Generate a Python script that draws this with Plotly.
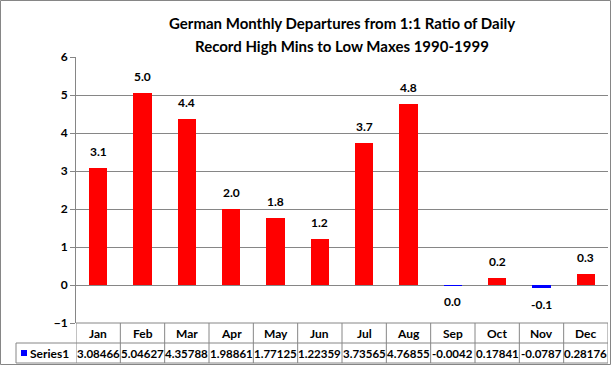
import plotly.graph_objects as go

months = ["Jan", "Feb", "Mar", "Apr", "May", "Jun", "Jul", "Aug", "Sep", "Oct", "Nov", "Dec"]
values = [3.08466, 5.04627, 4.35788, 1.98861, 1.77125, 1.22359, 3.73565, 4.76855, -0.0042, 0.17841, -0.0787, 0.28176]
table_text = ["3.08466", "5.04627", "4.35788", "1.98861", "1.77125", "1.22359", "3.73565", "4.76855", "-0.0042", "0.17841", "-0.0787", "0.28176"]
series_name = "Series1"
title_lines = ["German Monthly Departures from 1:1 Ratio of Daily", "Record High Mins to Low Maxes 1990-1999"]

W, H = 612, 365
L, R, T, B = 76, 4, 57, 42
PW, PH = W - L - R, H - T - B
FONT = "Lato"
GRID = "#868686"

def px_x(px):
    return (px - L) / PW

def px_y(py):
    return (H - B - py) / PH

xs = list(range(len(months)))
colors = ["#FF0000" if v >= 0 else "#0000FF" for v in values]

fig = go.Figure()
fig.add_trace(go.Bar(x=xs, y=values, marker=dict(color=colors, line=dict(width=0)),
                     width=0.41, showlegend=False, hoverinfo="skip"))

annotations = []
for i, v in enumerate(values):
    lab = f"{v:.1f}"
    if lab == "-0.0":
        lab = "0.0"
    annotations.append(dict(x=i, y=v, xref="x", yref="y", text="<b>" + lab + "</b>", showarrow=False,
                            yanchor="bottom" if v >= 0 else "top", yshift=7 if v >= 0 else -7,
                            font=dict(family=FONT, size=12, color="#000000")))

# title
annotations.append(dict(x=0.5, xref="paper", y=px_y(23), yref="paper", text="<b>" + title_lines[0] + "</b>",
                        showarrow=False, yanchor="middle", xanchor="center",
                        font=dict(family=FONT, size=15, color="#000")))
annotations.append(dict(x=0.5, xref="paper", y=px_y(46), yref="paper", text="<b>" + title_lines[1] + "</b>",
                        showarrow=False, yanchor="middle", xanchor="center",
                        font=dict(family=FONT, size=15, color="#000")))

# data table
row1_top, row1_bot, row2_bot = 323, 343, 363
for i, m in enumerate(months):
    annotations.append(dict(x=i, xref="x", y=px_y((row1_top + row1_bot) / 2), yref="paper",
                            text="<b>" + m + "</b>", showarrow=False, yanchor="middle",
                            font=dict(family=FONT, size=12, color="#000")))
    annotations.append(dict(x=i, xref="x", y=px_y((row1_bot + row2_bot) / 2), yref="paper",
                            text="<b>" + table_text[i] + "</b>", showarrow=False, yanchor="middle",
                            font=dict(family=FONT, size=11.5, color="#000")))
annotations.append(dict(x=px_x(28), xref="paper", y=px_y((row1_bot + row2_bot) / 2), yref="paper",
                        text="<b>" + series_name + "</b>", showarrow=False, xanchor="left", yanchor="middle",
                        font=dict(family=FONT, size=12, color="#000")))

shapes = []
line = dict(color=GRID, width=1)
# horizontal table lines
shapes.append(dict(type="line", xref="paper", yref="paper", x0=0, x1=1, y0=px_y(row1_top), y1=px_y(row1_top), line=line))
for yy in (row1_bot, row2_bot):
    shapes.append(dict(type="line", xref="paper", yref="paper", x0=px_x(16), x1=1, y0=px_y(yy), y1=px_y(yy), line=line))
# vertical separators
for k in range(len(months) + 1):
    shapes.append(dict(type="line", xref="x", yref="paper", x0=k - 0.5, x1=k - 0.5,
                       y0=px_y(row1_top), y1=px_y(row2_bot), line=line))
shapes.append(dict(type="line", xref="paper", yref="paper", x0=px_x(16), x1=px_x(16),
                   y0=px_y(row1_bot), y1=px_y(row2_bot), line=line))
# legend key
shapes.append(dict(type="rect", xref="paper", yref="paper", x0=px_x(21), x1=px_x(27),
                   y0=px_y(356), y1=px_y(350), fillcolor="#0000FF", line=dict(width=0)))
# outer border
shapes.append(dict(type="rect", xref="paper", yref="paper", x0=px_x(0.5), x1=px_x(610.5),
                   y0=px_y(364.5), y1=px_y(0.5), line=dict(color=GRID, width=1)))

fig.update_layout(
    width=W, height=H,
    margin=dict(l=L, r=R, t=T, b=B, pad=0),
    paper_bgcolor="#FFFFFF", plot_bgcolor="#FFFFFF",
    annotations=annotations, shapes=shapes,
    xaxis=dict(range=[-0.5, len(months) - 0.5], showticklabels=False, showgrid=False,
               zeroline=False, showline=False, ticks="", fixedrange=True),
    yaxis=dict(range=[-1, 6], dtick=1, tick0=0, showgrid=True, gridcolor=GRID, gridwidth=1,
               zeroline=True, zerolinecolor=GRID, zerolinewidth=1,
               showline=True, linecolor=GRID, linewidth=1, ticks="outside", ticklen=5,
               tickcolor=GRID, tickfont=dict(family=FONT, size=12, color="#000"),
               tickformat="d", fixedrange=True),
    bargap=0, font=dict(family=FONT),
)
fig.update_yaxes(tickprefix="<b>", ticksuffix="</b>")

fig.write_html("out.html", config={"displayModeBar": False},
               post_script="document.body.style.margin='0';document.body.style.padding='0';")
